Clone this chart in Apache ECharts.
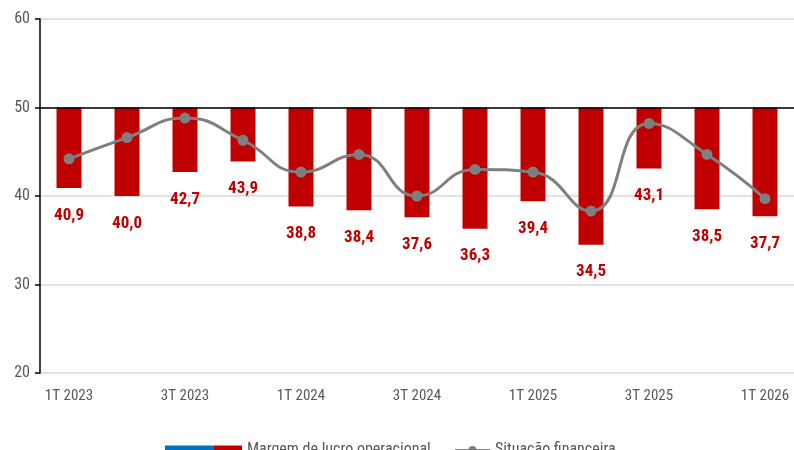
<!DOCTYPE html>
<html>
<head>
<meta charset="utf-8">
<script src="https://cdn.jsdelivr.net/npm/echarts@6/dist/echarts.min.js"></script>
<style>
  html, body { margin: 0; padding: 0; background: #fff; }
  #chart { width: 794px; height: 450px; }
</style>
</head>
<body>
<div id="chart"></div>
<script>
// dados
var trimestres = ['1T 2023', '2T 2023', '3T 2023', '4T 2023', '1T 2024', '2T 2024', '3T 2024',
  '4T 2024', '1T 2025', '2T 2025', '3T 2025', '4T 2025', '1T 2026']
var margem = [40.9, 40.0, 42.7, 43.9, 38.8, 38.4, 37.6, 36.3, 39.4, 34.5, 43.1, 38.5, 37.7]
var situacao = [44.2, 46.6, 48.8, 46.3, 42.7, 44.7, 40.0, 43.0, 42.7, 38.3, 48.2, 44.7, 39.7]
var yTicks = [20, 30, 40, 50, 60]
var baseLine = 50

var fonte = '"Roboto Condensed", "Liberation Sans", sans-serif'
var chart = echarts.init(document.getElementById('chart'))

// barras penduradas na linha dos 50
var baseInvisivel = margem.map(function (v) { return v })
var barraVisivel = margem.map(function (v) { return +(baseLine - v).toFixed(1) })

var option = {
  animation: false,
  grid: { left: 40, right: 0, top: 19, bottom: 77 },
  legend: [{
    left: 160,
    top: 437,
    itemWidth: 77,
    itemHeight: 9,
    textStyle: { fontFamily: fonte, fontSize: 16, color: '#595959' },
    data: [{
      name: 'Margem de lucro operacional',
      icon: 'rect',
      itemStyle: {
        color: new echarts.graphic.LinearGradient(0, 0, 1, 0, [
          { offset: 0, color: '#0070C0' },
          { offset: 0.64, color: '#0070C0' },
          { offset: 0.64, color: '#C00000' },
          { offset: 1, color: '#C00000' }
        ])
      }
    }]
  }, {
    left: 449,
    top: 437,
    itemWidth: 35,
    itemHeight: 10,
    textStyle: { fontFamily: fonte, fontSize: 16, color: '#595959' },
    data: ['Situação financeira']
  }],
  xAxis: {
    type: 'category',
    data: trimestres,
    axisLine: { show: false },
    axisTick: { show: false },
    axisLabel: {
      interval: 1,
      margin: 16,
      fontFamily: fonte,
      fontSize: 15,
      color: '#595959'
    }
  },
  yAxis: {
    type: 'value',
    min: yTicks[0],
    max: yTicks[yTicks.length - 1],
    interval: 10,
    axisLine: { show: true, lineStyle: { color: '#000', width: 1.5 } },
    axisTick: { show: true, length: 5, lineStyle: { color: '#000', width: 1.5 } },
    splitLine: { lineStyle: { color: '#d9d9d9', width: 1.5 } },
    axisLabel: {
      margin: 10,
      fontFamily: fonte,
      fontSize: 16,
      color: '#595959'
    }
  },
  series: [{
    name: 'base',
    type: 'bar',
    stack: 'm',
    data: baseInvisivel,
    barWidth: 25,
    itemStyle: { color: 'transparent' },
    silent: true
  }, {
    name: 'Margem de lucro operacional',
    type: 'bar',
    stack: 'm',
    data: barraVisivel,
    barWidth: 25,
    itemStyle: { color: '#C00000' },
    label: {
      show: true,
      position: 'bottom',
      distance: 19,
      fontFamily: fonte,
      fontSize: 17,
      fontWeight: 'bold',
      color: '#C00000',
      formatter: function (p) {
        return margem[p.dataIndex].toFixed(1).replace('.', ',')
      }
    },
    markLine: {
      silent: true,
      symbol: 'none',
      label: { show: false },
      lineStyle: { color: '#000', width: 1.5, type: 'solid' },
      data: [{ yAxis: baseLine }]
    }
  }, {
    name: 'Situação financeira',
    type: 'line',
    data: situacao,
    smooth: 0.5,
    symbol: 'circle',
    symbolSize: 11,
    z: 5,
    lineStyle: { color: '#7f7f7f', width: 3 },
    itemStyle: { color: '#7f7f7f' }
  }]
}

chart.setOption(option)
</script>
</body>
</html>
